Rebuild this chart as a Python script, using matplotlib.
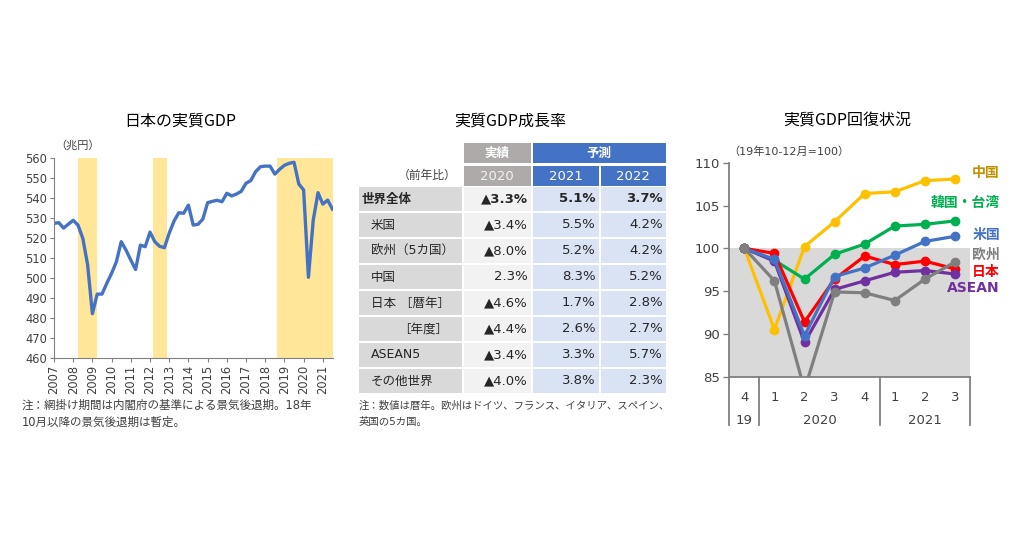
import matplotlib
matplotlib.use('Agg')
import matplotlib.pyplot as plt
import matplotlib.transforms as mtransforms
from matplotlib.patches import Rectangle

plt.rcParams['font.family'] = ['DejaVu Sans', 'Noto Sans CJK JP']

W, H = 1024, 538

# ---- left chart: Japan real GDP (trillion yen, quarterly from 2007Q1) ----
gdp_start_year = 2007
gdp_values = [
    527.2, 527.5, 524.8, 526.8,   # 2007
    528.7, 526.3, 519.7, 506.5,   # 2008
    482.0, 491.8, 491.8, 497.2,   # 2009
    502.2, 508.0, 518.0, 513.8,   # 2010
    508.8, 504.1, 516.3, 515.5,   # 2011
    522.8, 518.0, 515.7, 515.0,   # 2012
    522.3, 528.3, 532.5, 532.2,   # 2013
    536.3, 526.3, 526.7, 529.3,   # 2014
    537.5, 538.2, 538.7, 538.0,   # 2015
    542.2, 540.9, 541.8, 543.2,   # 2016
    547.2, 548.6, 553.0, 555.5,   # 2017
    555.8, 555.8, 551.8, 554.2,   # 2018
    556.2, 557.2, 557.7, 546.8,   # 2019
    543.9, 500.2, 528.8, 542.5,   # 2020
    536.8, 538.8, 534.3,          # 2021
]
recession_starts = [2008.23, 2012.16, 2018.6]
recession_ends = [2009.22, 2012.9, 2021.6]

# ---- middle table: real GDP growth (%) ----
row_labels = ['世界全体', '米国', '欧州（5カ国）', '中国', '日本 ［暦年］',
              '［年度］', 'ASEAN5', 'その他世界']
growth_2020 = [-3.3, -3.4, -8.0, 2.3, -4.6, -4.4, -3.4, -4.0]
growth_2021 = [5.1, 5.5, 5.2, 8.3, 1.7, 2.6, 3.3, 3.8]
growth_2022 = [3.7, 4.2, 4.2, 5.2, 2.8, 2.7, 5.7, 2.3]

# ---- right chart: recovery (2019Q4 = 100) ----
quarter_labels = ['4', '1', '2', '3', '4', '1', '2', '3']
year_labels = ['19', '2020', '2021']
year_first_idx = [0, 1, 5]
year_last_idx = [0, 4, 7]
china = [100, 90.5, 100.2, 103.1, 106.4, 106.6, 107.9, 108.1]
korea_taiwan = [100, 98.6, 96.4, 99.3, 100.5, 102.6, 102.8, 103.2]
japan = [100, 99.4, 91.4, 96.4, 99.1, 98.1, 98.5, 97.6]
asean = [100, 98.5, 89.0, 95.2, 96.2, 97.2, 97.4, 97.0]
us = [100, 98.7, 89.8, 96.7, 97.7, 99.2, 100.8, 101.4]
europe = [100, 96.2, 83.5, 94.9, 94.8, 93.9, 96.4, 98.4]


def px_axes(x0, y0, x1, y1):
    return fig.add_axes([x0 / W, 1 - y1 / H, (x1 - x0) / W, (y1 - y0) / H])


def ftext(x, y, s, **kw):
    fig.text(x / W, 1 - y / H, s, **kw)


fig = plt.figure(figsize=(W / 100, H / 100), dpi=100)
fig.patch.set_facecolor('white')
title_font = ['Noto Sans CJK JP', 'DejaVu Sans']
axis_gray = '#808080'
text_dark = '#404040'

# =================== left chart ===================
ax1 = px_axes(54, 157.7, 333.4, 357.7)
for a, b in zip(recession_starts, recession_ends):
    ax1.axvspan(a, b, color='#FFE699', lw=0)
years = [gdp_start_year + i / 4 for i in range(len(gdp_values))]
ax1.plot(years, gdp_values, color='#4472C4', lw=2.4)
ax1.set_xlim(2007, 2021.55)
ax1.set_ylim(460, 560)
ax1.set_yticks(range(460, 561, 10))
ax1.set_xticks(range(2007, 2022))
ax1.set_xticklabels([str(y) for y in range(2007, 2022)], rotation=90)
ax1.tick_params(axis='both', labelsize=8.3, colors=axis_gray, labelcolor=text_dark,
                length=3, width=0.8, pad=2)
for s in ['top', 'right']:
    ax1.spines[s].set_visible(False)
for s in ['left', 'bottom']:
    ax1.spines[s].set_color(axis_gray)
ftext(180, 121, '日本の実質GDP', ha='center', va='center', fontsize=11.5,
      family=title_font)
ftext(55, 145, '（兆円）', ha='left', va='center', fontsize=8, color=text_dark)
ftext(22, 405, '注：網掛け期間は内閣府の基準による景気後退期。18年',
      ha='left', va='center', fontsize=8.3, color=text_dark)
ftext(22, 422, '10月以降の景気後退期は暫定。',
      ha='left', va='center', fontsize=8.3, color=text_dark)

# =================== middle table ===================
tax = px_axes(355, 140, 670, 400)
tax.set_xlim(355, 670)
tax.set_ylim(400, 140)
tax.axis('off')

col_x = [(359, 462), (464, 530.5), (532.5, 598.5), (600.5, 665.5)]
hdr_gray = '#AEAAAA'
hdr_blue = '#4472C4'


def cell(x0, x1, y0, y1, color):
    tax.add_patch(Rectangle((x0, y0), x1 - x0, y1 - y0, facecolor=color,
                            edgecolor='none'))


# header rows
cell(col_x[1][0], col_x[1][1], 143, 163, hdr_gray)
cell(col_x[2][0], col_x[3][1], 143, 163, hdr_blue)
cell(col_x[1][0], col_x[1][1], 165.5, 185.5, hdr_gray)
cell(col_x[2][0], col_x[2][1], 165.5, 185.5, hdr_blue)
cell(col_x[3][0], col_x[3][1], 165.5, 185.5, hdr_blue)
tax.text(sum(col_x[1]) / 2, 153, '実績', ha='center', va='center',
         color='white', fontsize=9, fontweight='bold')
tax.text((col_x[2][0] + col_x[3][1]) / 2, 153, '予測', ha='center', va='center',
         color='white', fontsize=9, fontweight='bold')
for (x0, x1), lab, c in zip(col_x[1:], ['2020', '2021', '2022'],
                            ['#F2F2F2', 'white', 'white']):
    tax.text((x0 + x1) / 2, 176, lab, ha='center', va='center', color=c,
             fontsize=9.5)
tax.text(456, 175, '（前年比）', ha='right', va='center', fontsize=8.5,
         color=text_dark)


def fmt(v):
    return ('▲%.1f%%' % -v) if v < 0 else ('%.1f%%' % v)


for i, lab in enumerate(row_labels):
    y0 = 187 + 26 * i
    y1 = y0 + 24
    yc = (y0 + y1) / 2
    cell(col_x[0][0], col_x[0][1], y0, y1, '#D9D9D9')
    cell(col_x[1][0], col_x[1][1], y0, y1, '#F2F2F2')
    cell(col_x[2][0], col_x[2][1], y0, y1, '#DAE3F3')
    cell(col_x[3][0], col_x[3][1], y0, y1, '#DAE3F3')
    bold = 'bold' if i == 0 else 'normal'
    if i == 0:
        lx = 362
    elif lab.startswith('［'):
        lx = 398
    else:
        lx = 371
    tax.text(lx, yc, lab, ha='left', va='center', fontsize=9,
             fontweight=bold, color='#262626')
    for (x0, x1), v in zip(col_x[1:], [growth_2020[i], growth_2021[i],
                                       growth_2022[i]]):
        tax.text(x1 - 3, yc, fmt(v), ha='right', va='center', fontsize=9.5,
                 fontweight=bold, color='#262626')

ftext(510, 121, '実質GDP成長率', ha='center', va='center', fontsize=11.5,
      family=title_font)
ftext(359, 406, '注：数値は暦年。欧州はドイツ、フランス、イタリア、スペイン、',
      ha='left', va='center', fontsize=7.5, color=text_dark)
ftext(359, 422, '英国の5カ国。', ha='left', va='center', fontsize=7.5,
      color=text_dark)

# =================== right chart ===================
ax3 = px_axes(729.3, 162.7, 970, 376.7)
ax3.axhspan(85, 100, color='#D9D9D9', lw=0)
xs = list(range(len(quarter_labels)))
series = [
    (china, '#FFC000'),
    (korea_taiwan, '#00B050'),
    (japan, '#FF0000'),
    (asean, '#7030A0'),
    (us, '#4472C4'),
    (europe, '#7F7F7F'),
]
for vals, col in series:
    ax3.plot(xs, vals, color=col, lw=2.3, marker='o', markersize=6)
ax3.set_xlim(-0.5, 7.5)
ax3.set_ylim(85, 110)
ax3.set_yticks(range(85, 111, 5))
ax3.set_xticks(xs)
ax3.set_xticklabels(quarter_labels)
ax3.tick_params(axis='y', labelsize=9.5, colors=axis_gray, labelcolor=text_dark,
                length=4, width=1, pad=3)
ax3.tick_params(axis='x', labelsize=9.5, length=0, pad=10, labelcolor=text_dark)
for s in ['top', 'right']:
    ax3.spines[s].set_visible(False)
for s in ['left', 'bottom']:
    ax3.spines[s].set_color(axis_gray)
    ax3.spines[s].set_linewidth(1.3)
    ax3.spines[s].set_zorder(5)

trans = mtransforms.blended_transform_factory(ax3.transData, ax3.transAxes)
for sx in [-0.5, 0.5, 4.5, 7.5]:
    ax3.plot([sx, sx], [0, -0.226], transform=trans, clip_on=False,
             color=axis_gray, lw=1.3)
for lab, a, b in zip(year_labels, year_first_idx, year_last_idx):
    ax3.text((a + b) / 2, -0.206, lab, transform=trans, ha='center',
             va='center', fontsize=9.5, color=text_dark)

ftext(847, 121, '実質GDP回復状況', ha='center', va='center', fontsize=11.5,
      family=title_font)
ftext(728, 152, '（19年10-12月=100）', ha='left', va='center', fontsize=8,
      color=text_dark)

series_labels = ['中国', '韓国・台湾', '米国', '欧州', '日本', 'ASEAN']
series_label_colors = ['#BF9000', '#00B050', '#4472C4', '#7F7F7F', '#FF0000',
                       '#7030A0']
series_label_y = [172.7, 202.7, 235.5, 255, 271.7, 287.5]
for lab, c, y in zip(series_labels, series_label_colors, series_label_y):
    ftext(1000, y, lab, ha='right', va='center', fontsize=10, fontweight='bold',
          color=c)

fig.savefig('out.png', dpi=100, facecolor='white')
